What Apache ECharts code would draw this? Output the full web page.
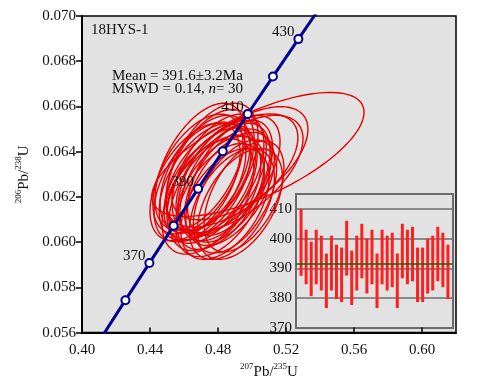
<!DOCTYPE html>
<html>
<head>
<meta charset="utf-8">
<script src="https://cdn.jsdelivr.net/npm/echarts@6/dist/echarts.min.js"></script>
<style>
  html, body { margin: 0; padding: 0; background: #fff; }
  #chart { width: 479px; height: 385px; }
</style>
</head>
<body>
<div id="chart"></div>
<script>
const FONT = "'Liberation Serif', 'Times New Roman', serif";

// concordia reference points (age in Ma, 207Pb/235U, 206Pb/238U)
const concAges = [350, 360, 370, 380, 390, 400, 410, 420, 430, 440];
const concX = [0.41156, 0.42553, 0.43964, 0.45389, 0.46828, 0.48281, 0.49749, 0.51231, 0.52728, 0.54239];
const concY = [0.055795, 0.057434, 0.059075, 0.060720, 0.062366, 0.064016, 0.065668, 0.067322, 0.068978, 0.070638];
const concLabelAges = [370, 390, 410, 430];

// analyses: ellipse centre, half widths and error correlation
const pb207 = [0.5035, 0.4724, 0.4871, 0.4859, 0.4753, 0.4929, 0.4841, 0.4782, 0.4900, 0.4929,
  0.4812, 0.4694, 0.4694, 0.4859, 0.4800, 0.4841, 0.4900, 0.4665, 0.4824, 0.4882,
  0.4765, 0.4682, 0.4882, 0.4741, 0.4953, 0.4765, 0.4724, 0.4753, 0.4871, 0.4812];
const err207 = [0.0624, 0.0265, 0.0260, 0.0306, 0.0270, 0.0250, 0.0265, 0.0270, 0.0245, 0.0400,
  0.0260, 0.0270, 0.0265, 0.0255, 0.0270, 0.0260, 0.0400, 0.0265, 0.0260, 0.0250,
  0.0270, 0.0265, 0.0388, 0.0270, 0.0235, 0.0265, 0.0270, 0.0260, 0.0250, 0.0260];
const pb206 = [0.06388, 0.06301, 0.06235, 0.06301, 0.06266, 0.06169, 0.06266, 0.06218, 0.06202, 0.06349,
  0.06186, 0.06266, 0.06334, 0.06250, 0.06301, 0.06169, 0.06301, 0.06266, 0.06284, 0.06169,
  0.06334, 0.06301, 0.06317, 0.06202, 0.06202, 0.06250, 0.06266, 0.06317, 0.06284, 0.06218];
const err206 = [0.00274, 0.00260, 0.00250, 0.00260, 0.00255, 0.00245, 0.00260, 0.00255, 0.00250, 0.00250,
  0.00250, 0.00265, 0.00280, 0.00250, 0.00265, 0.00245, 0.00260, 0.00260, 0.00255, 0.00245,
  0.00280, 0.00265, 0.00250, 0.00255, 0.00245, 0.00255, 0.00260, 0.00270, 0.00255, 0.00250];
const rho = [0.68, 0.50, 0.52, 0.55, 0.50, 0.48, 0.52, 0.50, 0.50, 0.60,
  0.48, 0.50, 0.52, 0.50, 0.50, 0.48, 0.60, 0.50, 0.52, 0.48,
  0.50, 0.50, 0.58, 0.48, 0.50, 0.52, 0.50, 0.50, 0.52, 0.50];

// weighted mean inset: 206Pb/238U age ranges (Ma)
const ageHigh = [410, 403, 399, 403, 401, 395, 401, 398, 397, 406,
  396, 401, 405, 400, 403, 395, 403, 401, 402, 395,
  405, 403, 404, 397, 397, 400, 401, 404, 402, 398];
const ageLow = [387.5, 384.7, 380.7, 384.7, 382.6, 376.7, 382.6, 379.7, 378.7, 387.6,
  377.7, 382.6, 386.7, 381.6, 384.7, 376.7, 384.7, 382.6, 383.7, 376.7,
  386.7, 384.7, 385.7, 378.7, 378.7, 381.6, 382.6, 385.7, 383.7, 379.7];
const meanAge = 391.6;

const supRich = {
  s: { fontFamily: FONT, fontSize: 9, lineHeight: 8, verticalAlign: 'top', color: '#111' },
  b: { fontFamily: FONT, fontSize: 15, lineHeight: 20, color: '#111' }
};

function ellipseItem(params, api) {
  const i = params.dataIndex;
  const cx = pb207[i], hx = err207[i], cy = pb206[i], hy = err206[i], r = rho[i];
  const s = Math.sqrt(1 - r * r);
  const pts = [];
  for (let k = 0; k < 120; k++) {
    const t = k / 120 * Math.PI * 2;
    pts.push(api.coord([cx + hx * Math.cos(t), cy + hy * (r * Math.cos(t) + s * Math.sin(t))]));
  }
  return {
    type: 'polygon',
    shape: { points: pts },
    style: { fill: 'none', stroke: '#e80000', lineWidth: 1.4 }
  };
}

function barItem(params, api) {
  const lo = api.coord([api.value(0), api.value(1)]);
  const hi = api.coord([api.value(0), api.value(2)]);
  return {
    type: 'rect',
    shape: { x: lo[0] - 1.5, y: hi[1], width: 3, height: lo[1] - hi[1] },
    style: { fill: '#ff1f1f' }
  };
}

const chart = echarts.init(document.getElementById('chart'));
chart.setOption({
  animation: false,
  grid: [
    { left: 82, top: 16, width: 374, height: 319, show: true, backgroundColor: '#e2e2e2', borderColor: '#000', borderWidth: 1.5 },
    { left: 296, top: 194, width: 157, height: 134, show: true, backgroundColor: '#e2e2e2', borderColor: '#6a6a6a', borderWidth: 2 }
  ],
  xAxis: [
    {
      gridIndex: 0, type: 'value', min: 0.40, max: 0.62, interval: 0.04,
      axisLine: { lineStyle: { color: '#000', width: 2 } },
      axisTick: { inside: true, length: 5, lineStyle: { color: '#000', width: 1.5 } },
      axisLabel: { formatter: v => v.toFixed(2), showMaxLabel: false, margin: 10, fontFamily: FONT, fontSize: 15, color: '#111' },
      splitLine: { show: false },
      name: '{s|207}{b|Pb/}{s|235}{b|U}', nameLocation: 'middle', nameGap: 28,
      nameTextStyle: { rich: supRich }
    },
    {
      gridIndex: 1, type: 'value', min: 0, max: 31,
      axisLine: { show: false }, axisTick: { show: false }, axisLabel: { show: false }, splitLine: { show: false }
    }
  ],
  yAxis: [
    {
      gridIndex: 0, type: 'value', min: 0.056, max: 0.070, interval: 0.002,
      axisLine: { lineStyle: { color: '#000', width: 2 } },
      axisTick: { length: 6, lineStyle: { color: '#000', width: 1.5 } },
      axisLabel: { formatter: v => v.toFixed(3), margin: 6, fontFamily: FONT, fontSize: 15, color: '#111' },
      splitLine: { show: false },
      name: '{s|206}{b|Pb/}{s|238}{b|U}', nameLocation: 'middle', nameGap: 44, nameRotate: 90,
      nameTextStyle: { rich: supRich }
    },
    {
      gridIndex: 1, type: 'value', min: 370, max: 415, interval: 10,
      axisLine: { show: false }, axisTick: { show: false },
      axisLabel: { showMaxLabel: false, margin: 4, fontFamily: FONT, fontSize: 15, color: '#111' },
      splitLine: { lineStyle: { color: '#6e6e6e', width: 1.5 } }
    }
  ],
  graphic: [
    { type: 'text', left: 91, top: 23, style: { text: '18HYS-1', font: '15px ' + FONT, fill: '#111' } },
    {
      type: 'text', left: 112, top: 69,
      style: {
        text: '{a|Mean = 391.6±3.2Ma}\n{a|MSWD = 0.14, }{i|n}{a|= 30}',
        rich: {
          a: { fontFamily: FONT, fontSize: 15, lineHeight: 13, fill: '#111', color: '#111' },
          i: { fontFamily: FONT, fontSize: 15, lineHeight: 13, fontStyle: 'italic', fill: '#111', color: '#111' }
        }
      }
    }
  ],
  series: [
    {
      type: 'custom', xAxisIndex: 0, yAxisIndex: 0,
      renderItem: ellipseItem,
      encode: { x: 0, y: 1 },
      data: pb207.map((v, i) => [v, pb206[i]]),
      z: 2
    },
    {
      type: 'line', xAxisIndex: 0, yAxisIndex: 0,
      data: concAges.map((a, i) => ({
        name: String(a),
        value: [concX[i], concY[i]],
        symbol: a >= 360 && a <= 430 ? 'circle' : 'none',
        label: { show: concLabelAges.includes(a) }
      })),
      lineStyle: { color: '#00008f', width: 3 },
      itemStyle: { color: '#fff', borderColor: '#00008f', borderWidth: 2 },
      symbolSize: 8,
      showAllSymbol: true,
      label: { position: 'left', distance: 0, offset: [1, -7], formatter: '{b}', fontFamily: FONT, fontSize: 15, color: '#111' },
      z: 5
    },
    {
      type: 'custom', xAxisIndex: 1, yAxisIndex: 1,
      renderItem: barItem,
      encode: { x: 0, y: [1, 2] },
      data: ageLow.map((v, i) => [i + 1, v, ageHigh[i]]),
      markLine: {
        silent: true, symbol: 'none', label: { show: false },
        lineStyle: { color: '#0b6b12', width: 1.5, type: 'solid' },
        data: [{ yAxis: meanAge }]
      },
      z: 3
    }
  ]
});
</script>
</body>
</html>
